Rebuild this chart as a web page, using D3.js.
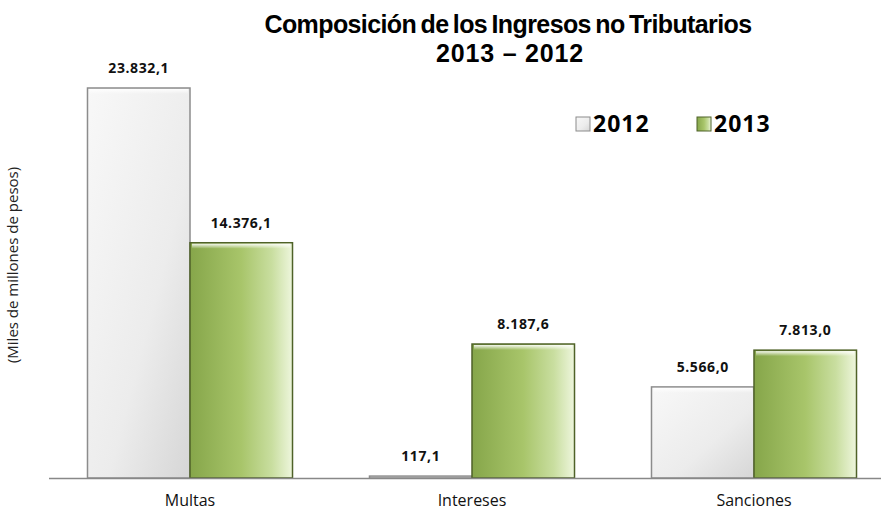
<!DOCTYPE html>
<html>
<head>
<meta charset="utf-8">
<script src="https://cdn.jsdelivr.net/npm/d3@7"></script>
<style>
  body { margin: 0; background: #fff; }
  svg { display: block; }
  .lbl { font-family: "Open Sans", sans-serif; }
</style>
</head>
<body>
<div id="vis"></div>
<script>
const categories = ["Multas", "Intereses", "Sanciones"];
const seriesNames = ["2012", "2013"];
const values2012 = [23832.1, 117.1, 5566.0];
const values2013 = [14376.1, 8187.6, 7813.0];
const valueLabels2012 = ["23.832,1", "117,1", "5.566,0"];
const valueLabels2013 = ["14.376,1", "8.187,6", "7.813,0"];

const ctx = {
    w: 881,
    h: 514,
    baseY: 478,
    left: 49,
    right: 895
};

const data = categories.map((c, i) => ({
    cat: c,
    vals: [
        {s: "2012", v: values2012[i], lb: valueLabels2012[i]},
        {s: "2013", v: values2013[i], lb: valueLabels2013[i]}
    ]
}));

let svg = d3.select("#vis").append("svg")
    .attr("width", ctx.w)
    .attr("height", ctx.h);

// gradients
let defs = svg.append("defs");
let g12 = defs.append("linearGradient").attr("id", "g2012")
    .attr("x1", "0").attr("y1", "0").attr("x2", "1").attr("y2", "1");
g12.append("stop").attr("offset", "0").attr("stop-color", "#f8f8f8");
g12.append("stop").attr("offset", "0.6").attr("stop-color", "#ececec");
g12.append("stop").attr("offset", "1").attr("stop-color", "#d6d6d6");

let g13 = defs.append("linearGradient").attr("id", "g2013")
    .attr("x1", "0").attr("y1", "0").attr("x2", "1").attr("y2", "0");
g13.append("stop").attr("offset", "0").attr("stop-color", "#86a64a");
g13.append("stop").attr("offset", "0.5").attr("stop-color", "#a8c56a");
g13.append("stop").attr("offset", "0.8").attr("stop-color", "#c9dea0");
g13.append("stop").attr("offset", "1").attr("stop-color", "#eef6dd");

let shine = defs.append("linearGradient").attr("id", "shine")
    .attr("x1", "0").attr("y1", "0").attr("x2", "0").attr("y2", "1");
shine.append("stop").attr("offset", "0").attr("stop-color", "#fff").attr("stop-opacity", 0.9);
shine.append("stop").attr("offset", "1").attr("stop-color", "#fff").attr("stop-opacity", 0);

const fills = {"2012": "url(#g2012)", "2013": "url(#g2013)"};
const strokes = {"2012": "#8c8c8c", "2013": "#4f6228"};

let xScale = d3.scaleBand()
    .domain(categories)
    .range([ctx.left, ctx.right])
    .paddingInner(0.273)
    .paddingOuter(0.1365);

let xSub = d3.scaleBand()
    .domain(seriesNames)
    .range([0, xScale.bandwidth()]);

let yScale = d3.scaleLinear()
    .domain([0, 23832.1])
    .range([ctx.baseY, 88]);

// title
let title = svg.append("text")
    .attr("text-anchor", "middle")
    .style("font-family", "'Liberation Sans', Arial, sans-serif")
    .style("font-weight", "bold")
    .style("font-size", "25px");
title.append("tspan").attr("x", 508).attr("y", 33)
    .style("letter-spacing", "-0.6px")
    .style("word-spacing", "-2px")
    .text("Composición de los Ingresos no Tributarios");
title.append("tspan").attr("x", 510).attr("y", 62)
    .style("letter-spacing", "0.8px")
    .text("2013 – 2012");

// y label
svg.append("text")
    .attr("class", "lbl")
    .attr("transform", "translate(18,265) rotate(-90)")
    .attr("text-anchor", "middle")
    .style("font-size", "15px")
    .style("fill", "#222")
    .text("(Miles de millones de pesos)");

// bars
let groups = svg.selectAll("g.cat")
    .data(data)
    .enter()
    .append("g")
    .attr("class", "cat")
    .attr("transform", d => `translate(${xScale(d.cat)},0)`);

groups.selectAll("rect.bar")
    .data(d => d.vals)
    .enter()
    .append("rect")
    .attr("class", "bar")
    .attr("x", d => xSub(d.s))
    .attr("width", xSub.bandwidth())
    .attr("y", d => yScale(d.v))
    .attr("height", d => ctx.baseY - yScale(d.v))
    .style("fill", d => fills[d.s])
    .style("stroke", d => strokes[d.s])
    .style("stroke-width", 1.5);

// top highlight bevel
groups.selectAll("rect.shine")
    .data(d => d.vals.filter(v => ctx.baseY - yScale(v.v) > 8))
    .enter()
    .append("rect")
    .attr("class", "shine")
    .attr("x", d => xSub(d.s) + 2)
    .attr("width", xSub.bandwidth() - 4)
    .attr("y", d => yScale(d.v) + 1)
    .attr("height", 5)
    .style("fill", "url(#shine)");

groups.selectAll("text.val")
    .data(d => d.vals)
    .enter()
    .append("text")
    .attr("class", "lbl val")
    .attr("x", d => xSub(d.s) + xSub.bandwidth() / 2)
    .attr("y", d => yScale(d.v) - 15)
    .attr("text-anchor", "middle")
    .style("font-size", "14px")
    .style("letter-spacing", "0.6px")
    .style("font-weight", "bold")
    .style("fill", "#111")
    .text(d => d.lb);

// x axis line and labels
svg.append("line")
    .attr("x1", ctx.left).attr("x2", ctx.w)
    .attr("y1", ctx.baseY + 0.5).attr("y2", ctx.baseY + 0.5)
    .style("stroke", "#888")
    .style("stroke-width", 1.5);

svg.selectAll("text.cat")
    .data(categories)
    .enter()
    .append("text")
    .attr("class", "lbl cat")
    .attr("x", d => xScale(d) + xScale.bandwidth() / 2)
    .attr("y", 506)
    .attr("text-anchor", "middle")
    .style("font-size", "16px")
    .style("fill", "#111")
    .text(d => d);

// legend
const legendX = [576, 697];
let legend = svg.selectAll("g.legend")
    .data(seriesNames)
    .enter()
    .append("g")
    .attr("class", "legend")
    .attr("transform", (d, i) => `translate(${legendX[i]},117)`);

legend.append("rect")
    .attr("width", 14).attr("height", 14)
    .style("fill", d => fills[d])
    .style("stroke", d => strokes[d])
    .style("stroke-width", 1);

legend.append("text")
    .attr("class", "lbl")
    .attr("x", 17)
    .attr("y", 15)
    .style("font-size", "23px")
    .style("letter-spacing", "1px")
    .style("font-weight", "bold")
    .style("fill", "#000")
    .text(d => d);
</script>
</body>
</html>
